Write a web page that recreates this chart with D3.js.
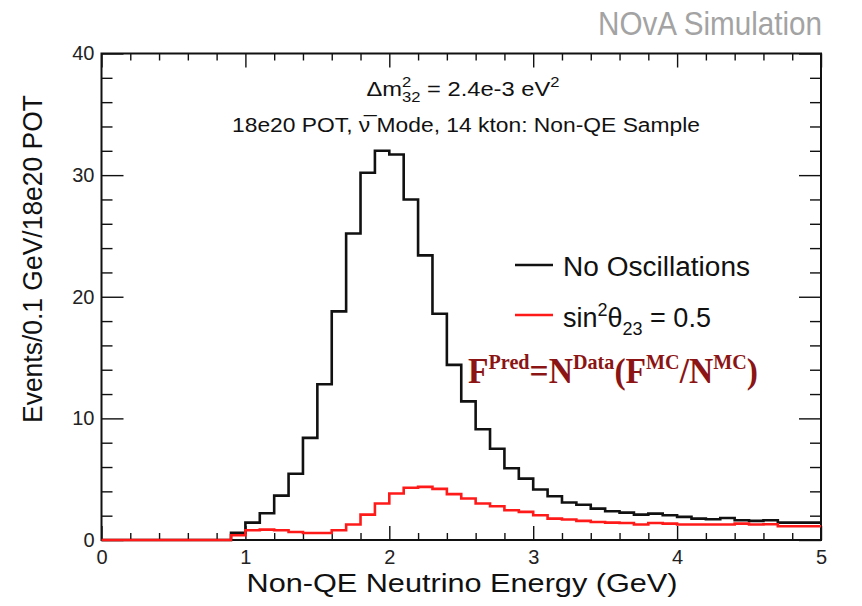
<!DOCTYPE html>
<html>
<head>
<meta charset="utf-8">
<script src="https://cdn.jsdelivr.net/npm/d3@7"></script>
<style>
  body { margin: 0; background: #fff; }
  svg { font-family: "Liberation Sans", Arial, Helvetica, sans-serif; }
</style>
</head>
<body>
<div id="chart"></div>
<script>
// events per 0.1 GeV bin, bins 0.0-0.1 ... 4.9-5.0
const noOsc = [
  0, 0, 0, 0, 0, 0, 0, 0, 0, 0.6,
  1.43, 2.2, 3.65, 5.45, 8.4, 12.8, 18.8, 25.2, 30.2, 32.0,
  31.7, 28.0, 23.4, 18.6, 14.4, 11.4, 9.1, 7.5, 5.9, 5.05,
  4.15, 3.6, 3.08, 2.9, 2.58, 2.36, 2.25, 2.09, 2.17, 2.03,
  1.9, 1.76, 1.7, 1.81, 1.62, 1.57, 1.62, 1.43, 1.43, 1.43
]
const maxMix = [
  0, 0, 0, 0, 0, 0, 0, 0, 0, 0.39,
  0.8, 0.85, 0.8, 0.66, 0.58, 0.58, 0.8, 1.27, 2.09, 3.0,
  3.82, 4.3, 4.37, 4.2, 3.77, 3.41, 3.0, 2.78, 2.45, 2.31,
  2.03, 1.76, 1.68, 1.57, 1.48, 1.43, 1.4, 1.27, 1.4, 1.35,
  1.27, 1.27, 1.27, 1.27, 1.35, 1.27, 1.3, 1.13, 1.13, 1.13
]
const binWidth = 0.1
const binLow = d3.range(noOsc.length).map(i => +(i * binWidth).toFixed(1))
const xMajor = [0, 1, 2, 3, 4, 5]
const yMajor = [0, 10, 20, 30, 40]
const xMinor = d3.range(0, 26).map(i => +(i * 0.2).toFixed(1)).filter(v => v % 1 !== 0)
const yMinor = d3.range(0, 21).map(i => i * 2).filter(v => v % 10 !== 0)

const margin = {top: 53.5, right: 41, bottom: 66, left: 101.5}
const width = 862 - margin.left - margin.right
const height = 606 - margin.top - margin.bottom

const svg = d3.select("#chart")
  .append("svg")
    .attr("width", 862)
    .attr("height", 606)

svg.append("rect")
  .attr("width", 862)
  .attr("height", 606)
  .attr("fill", "#fff")

const g = svg.append("g")
  .attr("transform", "translate(" + margin.left + "," + margin.top + ")")

const x = d3.scaleLinear().domain([0, 5]).range([0, width])
const y = d3.scaleLinear().domain([0, 40]).range([height, 0])

// ROOT style ticks: all four sides, pointing inwards
function addAxis(axis, transform) {
  const a = g.append("g")
    .attr("transform", transform)
    .call(axis)
  a.select(".domain").remove()
  a.selectAll(".tick line").attr("stroke", "#111").attr("stroke-width", 1.4)
  a.selectAll("text").attr("font-size", 20).attr("fill", "#222")
    .style("font-family", "'Liberation Sans', Arial, sans-serif")
  return a
}

addAxis(d3.axisBottom(x).tickValues(xMajor).tickSize(-14).tickPadding(10).tickFormat(d3.format("d")),
  "translate(0," + height + ")")
addAxis(d3.axisBottom(x).tickValues(xMinor).tickSize(-7).tickFormat(""),
  "translate(0," + height + ")")
addAxis(d3.axisTop(x).tickValues(xMajor).tickSize(-14).tickFormat(""), "translate(0,0)")
addAxis(d3.axisTop(x).tickValues(xMinor).tickSize(-7).tickFormat(""), "translate(0,0)")

addAxis(d3.axisLeft(y).tickValues(yMajor).tickSize(-22).tickPadding(7).tickFormat(d3.format("d")),
  "translate(0,0)")
addAxis(d3.axisLeft(y).tickValues(yMinor).tickSize(-11).tickFormat(""), "translate(0,0)")
addAxis(d3.axisRight(y).tickValues(yMajor).tickSize(-22).tickFormat(""), "translate(" + width + ",0)")
addAxis(d3.axisRight(y).tickValues(yMinor).tickSize(-11).tickFormat(""), "translate(" + width + ",0)")

// frame
g.append("rect")
  .attr("width", width)
  .attr("height", height)
  .attr("fill", "none")
  .attr("stroke", "#111")
  .attr("stroke-width", 2)

// histograms as steps
function histPoints(vals) {
  const pts = binLow.map((b, i) => [b, vals[i]])
  pts.push([binLow[binLow.length - 1] + binWidth, vals[vals.length - 1]])
  return pts
}
const step = d3.line()
  .x(d => x(d[0]))
  .y(d => y(d[1]))
  .curve(d3.curveStepAfter)

g.append("path")
  .attr("d", step(histPoints(noOsc)))
  .attr("fill", "none")
  .attr("stroke", "#111")
  .attr("stroke-width", 2.6)

g.append("path")
  .attr("d", step(histPoints(maxMix)))
  .attr("fill", "none")
  .attr("stroke", "#ff1a1a")
  .attr("stroke-width", 2.6)

// header
svg.append("text")
  .attr("x", 822).attr("y", 35)
  .attr("text-anchor", "end")
  .attr("font-size", 34)
  .attr("fill", "#a3a3a3")
  .attr("textLength", 224)
  .attr("lengthAdjust", "spacingAndGlyphs")
  .text("NOvA Simulation")

const t1 = svg.append("text")
  .attr("x", 463).attr("y", 96)
  .attr("text-anchor", "middle")
  .attr("font-size", 20)
  .attr("fill", "#111")
  .attr("textLength", 193)
  .attr("lengthAdjust", "spacingAndGlyphs")
t1.append("tspan").text("\u0394m")
t1.append("tspan").attr("font-size", 14).attr("dy", -9).text("2")
t1.append("tspan").attr("font-size", 14).attr("dx", -7.8).attr("dy", 15).text("32")
t1.append("tspan").attr("dy", -6).text(" = 2.4e-3 eV")
t1.append("tspan").attr("font-size", 14).attr("dy", -9).text("2")

svg.append("text")
  .attr("x", 466).attr("y", 131.5)
  .attr("text-anchor", "middle")
  .attr("font-size", 20)
  .attr("fill", "#111")
  .attr("textLength", 468)
  .attr("lengthAdjust", "spacingAndGlyphs")
  .text("18e20 POT, \u03BD\u0305 Mode, 14 kton: Non-QE Sample")

// axis titles
svg.append("text")
  .attr("x", 462).attr("y", 592)
  .attr("text-anchor", "middle")
  .attr("font-size", 26)
  .attr("fill", "#111")
  .attr("textLength", 431)
  .attr("lengthAdjust", "spacingAndGlyphs")
  .text("Non-QE Neutrino Energy (GeV)")

svg.append("text")
  .attr("transform", "translate(42,95) rotate(-90)")
  .attr("text-anchor", "end")
  .attr("font-size", 27)
  .attr("fill", "#111")
  .attr("textLength", 328)
  .attr("lengthAdjust", "spacingAndGlyphs")
  .text("Events/0.1 GeV/18e20 POT")

// legend
const legend = [
  {label: "No Oscillations", color: "#111", y: 265},
  {label: "sin", color: "#ff1a1a", y: 315}
]
svg.selectAll(".leg")
  .data(legend)
  .enter()
  .append("line")
    .attr("x1", 515).attr("x2", 553)
    .attr("y1", d => d.y).attr("y2", d => d.y)
    .attr("stroke", d => d.color)
    .attr("stroke-width", 2.6)

svg.append("text")
  .attr("x", 563).attr("y", 276)
  .attr("font-size", 27)
  .attr("fill", "#111")
  .attr("textLength", 187)
  .attr("lengthAdjust", "spacingAndGlyphs")
  .text("No Oscillations")

const t2 = svg.append("text")
  .attr("x", 563).attr("y", 327)
  .attr("font-size", 27)
  .attr("fill", "#111")
t2.append("tspan").text("sin")
t2.append("tspan").attr("font-size", 18).attr("dy", -11).text("2")
t2.append("tspan").attr("dy", 11).text("\u03B8")
t2.append("tspan").attr("font-size", 18).attr("dy", 8).text("23")
t2.append("tspan").attr("dy", -8).text(" = 0.5")

// extrapolation formula
const f = svg.append("text")
  .attr("x", 468).attr("y", 383)
  .style("font-family", "'Liberation Serif', 'Times New Roman', serif")
  .attr("font-weight", "bold")
  .attr("font-size", 35)
  .attr("fill", "#8b1414")
  .attr("textLength", 290)
  .attr("lengthAdjust", "spacingAndGlyphs")
f.append("tspan").text("F")
f.append("tspan").attr("font-size", 21).attr("dy", -14).text("Pred")
f.append("tspan").attr("dy", 14).text("=N")
f.append("tspan").attr("font-size", 21).attr("dy", -14).text("Data")
f.append("tspan").attr("dy", 14).text("(F")
f.append("tspan").attr("font-size", 21).attr("dy", -14).text("MC")
f.append("tspan").attr("dy", 14).text("/N")
f.append("tspan").attr("font-size", 21).attr("dy", -14).text("MC")
f.append("tspan").attr("dy", 14).text(")")
</script>
</body>
</html>
